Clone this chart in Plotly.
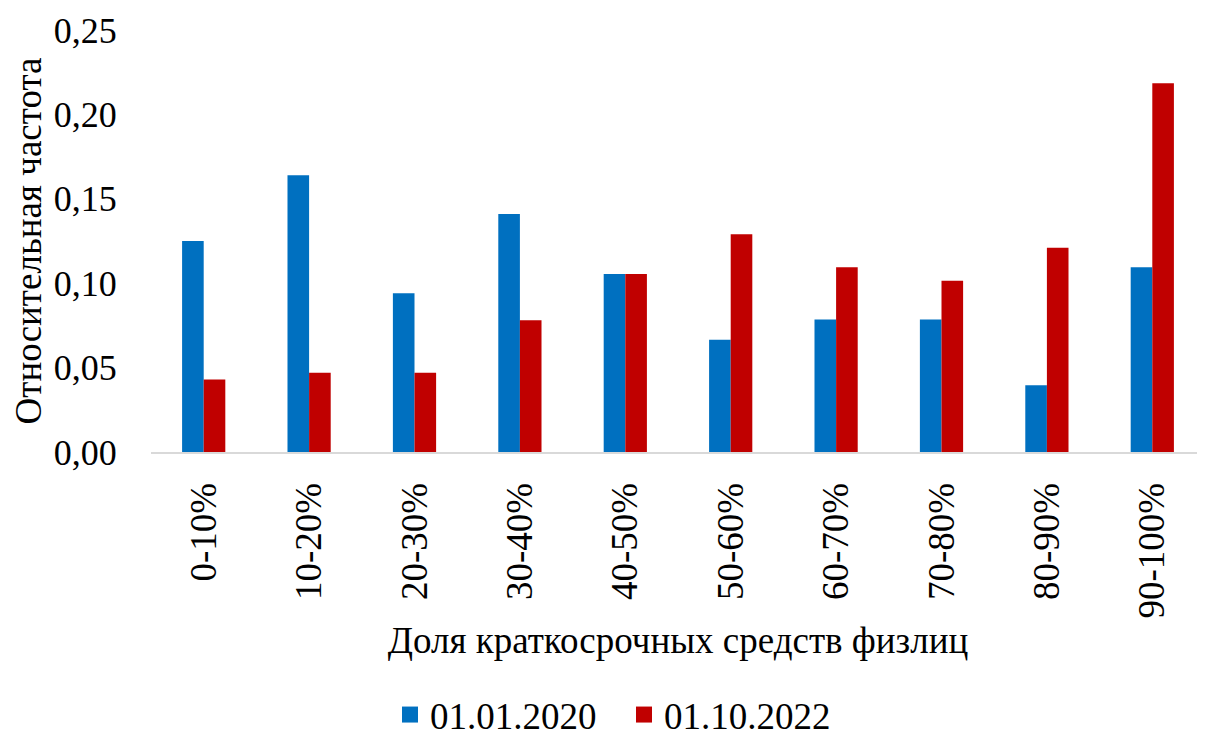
import plotly.graph_objects as go

categories = ["0-10%", "10-20%", "20-30%", "30-40%", "40-50%",
              "50-60%", "60-70%", "70-80%", "80-90%", "90-100%"]
series_2020 = [0.125, 0.164, 0.094, 0.141, 0.1055, 0.0665, 0.0785, 0.0785, 0.0395, 0.1095]
series_2022 = [0.043, 0.047, 0.047, 0.078, 0.1055, 0.129, 0.1095, 0.1015, 0.121, 0.2185]
yticks = [0, 0.05, 0.10, 0.15, 0.20, 0.25]
name_2020 = "01.01.2020"
name_2022 = "01.10.2022"
colors = {"2020": "#0070C0", "2022": "#C00000"}

FONT = "'Liberation Serif', 'DejaVu Serif', serif"

fig = go.Figure()
fig.add_trace(go.Bar(x=categories, y=series_2020, name=name_2020, showlegend=False,
                     marker=dict(color=colors["2020"], line=dict(width=0))))
fig.add_trace(go.Bar(x=categories, y=series_2022, name=name_2022, showlegend=False,
                     marker=dict(color=colors["2022"], line=dict(width=0))))
# legend entries with larger square swatches
for nm, c in [(name_2020, colors["2020"]), (name_2022, colors["2022"])]:
    fig.add_trace(go.Scatter(x=[None], y=[None], mode="markers", name=nm,
                             marker=dict(symbol="square", size=20, color=c),
                             hoverinfo="skip"))

fig.update_layout(
    width=1205, height=738,
    margin=dict(l=143, r=8, t=22, b=294, autoexpand=False),
    paper_bgcolor="white", plot_bgcolor="white",
    barmode="group", bargap=0.59, bargroupgap=0,
    separators=", ",
    font=dict(family=FONT, size=37, color="black"),
    showlegend=True,
    legend=dict(orientation="h", xref="container", x=0.317, xanchor="left",
                yref="container", y=0.0, yanchor="bottom",
                font=dict(family=FONT, size=37), itemwidth=30, tracegroupgap=0,
                entrywidth=189, entrywidthmode="pixels",
                itemsizing="trace"),
    xaxis=dict(showgrid=False, showline=True, linecolor="#d9d9d9", linewidth=2,
               automargin=False,
               tickangle=-90, ticks="outside", ticklen=14, tickcolor="rgba(0,0,0,0)",
               tickfont=dict(family=FONT, size=37),
               title=dict(text="Доля краткосрочных средств физлиц",
                          font=dict(family=FONT, size=37), standoff=10)),
    yaxis=dict(range=[0, 0.25], tickvals=yticks, tickformat=".2f", showgrid=False,
               zeroline=False, showline=False, automargin=False,
               ticks="outside", ticklen=26, tickcolor="rgba(0,0,0,0)",
               tickfont=dict(family=FONT, size=36),
               title=dict(text="Относительная частота",
                          font=dict(family=FONT, size=37), standoff=8)),
)

fig.write_html("out.html")
